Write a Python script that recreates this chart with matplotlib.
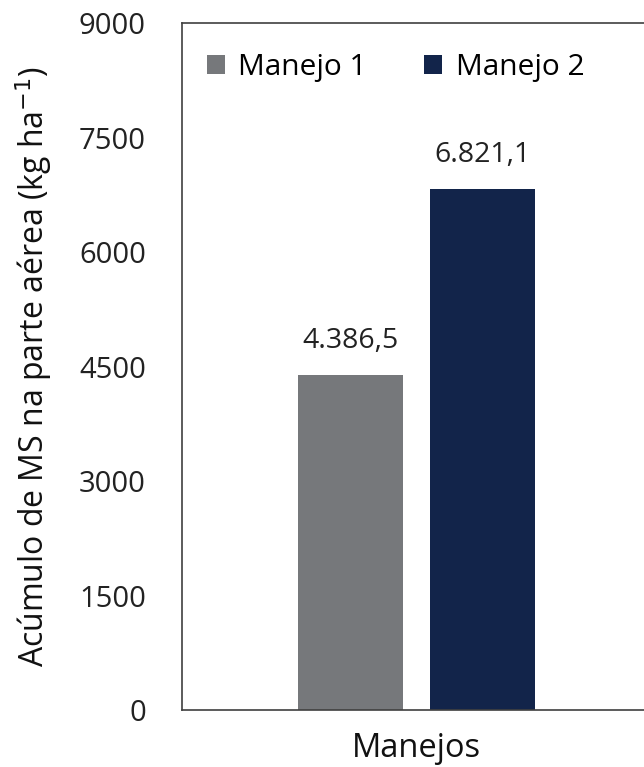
import matplotlib
matplotlib.use("Agg")
import matplotlib.pyplot as plt

plt.rcParams['font.family'] = ['Open Sans', 'DejaVu Sans']

series = ['Manejo 1', 'Manejo 2']
valores = [4386.5, 6821.1]
rotulos = ['4.386,5', '6.821,1']
cores = ['#76787b', '#12244a']
yticks = [0, 1500, 3000, 4500, 6000, 7500, 9000]

fig = plt.figure(figsize=(6.44, 7.67), dpi=100)
ax = fig.add_axes([0.2826, 0.0743, 0.727, 0.8957])

largura = 0.449
desloc = [-0.282, 0.282]
for nome, v, rot, cor, dx in zip(series, valores, rotulos, cores, desloc):
    ax.bar(dx, v, width=largura, color=cor, label=nome)
    ax.text(dx, v + 270, rot, ha='center', va='bottom', fontsize=20.5, color='#222222')

ax.set_xlim(-1, 1)
ax.set_ylim(0, 9000)
ax.set_yticks(yticks)
ax.set_yticklabels([str(t) for t in yticks])
ax.set_xticks([])
ax.tick_params(axis='y', length=0, pad=26, labelsize=21, labelcolor='#222222')

for s in ax.spines.values():
    s.set_color('#404040')
    s.set_linewidth(1.2)

ax.set_xlabel('Manejos', fontsize=23.5, labelpad=16, color='#111111')
ax.set_ylabel('Acúmulo de MS na parte aérea (kg ha$^{-1}$)', fontsize=23,
              labelpad=18, color='#111111')

ax.legend(loc='upper left', bbox_to_anchor=(-0.005, 0.995), ncol=2, frameon=False,
          fontsize=21.5, handlelength=0.62, handleheight=0.62, handletextpad=0.45,
          columnspacing=1.9)

fig.savefig('out.png', dpi=100)
